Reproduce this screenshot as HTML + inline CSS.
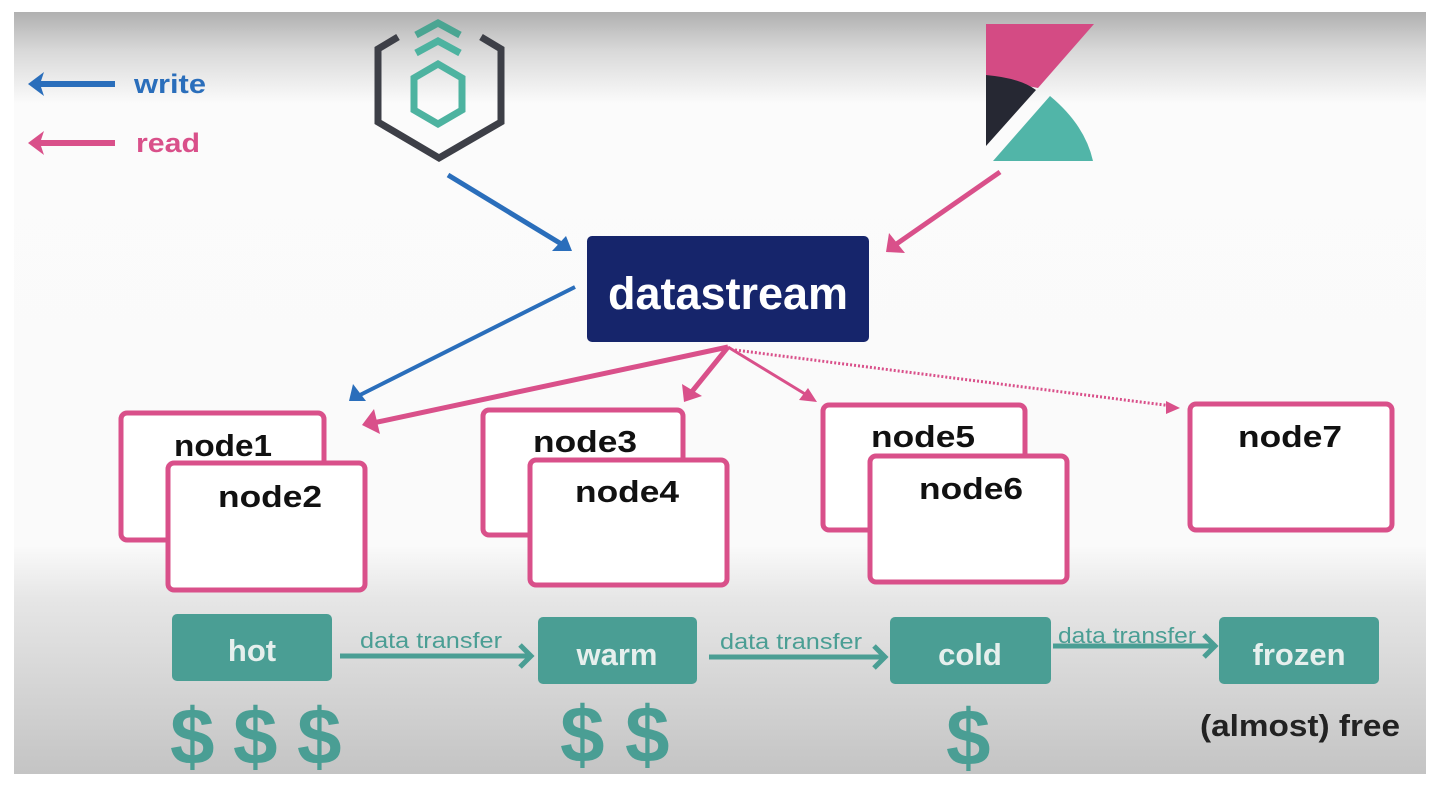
<!DOCTYPE html>
<html><head><meta charset="utf-8"><style>
html,body{margin:0;padding:0;background:#fff;width:1442px;height:790px;overflow:hidden}
svg{display:block}
text{font-family:"Liberation Sans",sans-serif;font-weight:bold}
</style></head><body>
<svg width="1442" height="790" viewBox="0 0 1442 790">
<defs>
<linearGradient id="bg" x1="0" y1="0" x2="0" y2="1">
<stop offset="0" stop-color="#b0b0b0"/>
<stop offset="0.05" stop-color="#d8d8d8"/>
<stop offset="0.12" stop-color="#fbfbfb"/>
<stop offset="0.7" stop-color="#fafafa"/>
<stop offset="0.77" stop-color="#e6e6e6"/>
<stop offset="1" stop-color="#c4c4c4"/>
</linearGradient>
</defs>
<rect x="14" y="12" width="1412" height="762" fill="url(#bg)"/>

<!-- legend -->
<line x1="40" y1="84" x2="115" y2="84" stroke="#2a6ebb" stroke-width="6"/>
<polygon points="28,84 44,72 40,84 44,96" fill="#2a6ebb"/>
<line x1="40" y1="143" x2="115" y2="143" stroke="#d9508a" stroke-width="6"/>
<polygon points="28,143 44,131 40,143 44,155" fill="#d9508a"/>
<text x="134" y="93" font-size="27" fill="#2a6ebb" textLength="72" lengthAdjust="spacingAndGlyphs">write</text>
<text x="136" y="152" font-size="27" fill="#d9508a" textLength="64" lengthAdjust="spacingAndGlyphs">read</text>

<!-- hex logo -->
<path d="M398,37 L378,49 L378,122 L439,158 L501,122 L501,49 L481,37" fill="none" stroke="#3d3f47" stroke-width="7"/>
<path d="M438,64 L462,78 L462,110 L438,124 L414,110 L414,78 Z" fill="none" stroke="#4db3a0" stroke-width="7"/>
<path d="M416,35 L438,23 L460,35" fill="none" stroke="#4aa592" stroke-width="7"/>
<path d="M416,53 L438,41 L460,53" fill="none" stroke="#4db3a0" stroke-width="7"/>

<!-- kibana logo -->
<polygon points="986,24 1094,24 1038,88 986,78" fill="#d44b84"/>
<path d="M986,75 Q1020,78 1036,90 L986,146 Z" fill="#262833"/>
<path d="M993,161 L1050,96 Q1085,125 1093,161 Z" fill="#51b5a8"/>

<!-- arrows to datastream -->
<line x1="448" y1="175" x2="563" y2="245" stroke="#2a6ebb" stroke-width="5"/>
<polygon points="572,251 552,251 566,236" fill="#2a6ebb"/>
<line x1="1000" y1="172" x2="895" y2="245" stroke="#d9508a" stroke-width="5"/>
<polygon points="886,252 889,233 905,253" fill="#d9508a"/>

<!-- datastream -->
<rect x="587" y="236" width="282" height="106" rx="5" fill="#16256b"/>
<text x="608" y="309" font-size="45" fill="#fff" textLength="240" lengthAdjust="spacingAndGlyphs">datastream</text>

<!-- arrows to nodes -->
<line x1="575" y1="287" x2="358" y2="396" stroke="#2a6ebb" stroke-width="4"/>
<polygon points="349,401 353,384 366,401" fill="#2a6ebb"/>
<line x1="728" y1="347" x2="373" y2="423" stroke="#d9508a" stroke-width="5"/>
<polygon points="362,425 374,409 380,434" fill="#d9508a"/>
<line x1="728" y1="347" x2="690" y2="394" stroke="#d9508a" stroke-width="5"/>
<polygon points="684,402 682,384 702,396" fill="#d9508a"/>
<line x1="728" y1="347" x2="810" y2="397" stroke="#d9508a" stroke-width="3"/>
<polygon points="817,402 799,400 808,388" fill="#d9508a"/>
<line x1="735" y1="350" x2="1172" y2="406" stroke="#d9508a" stroke-width="3" stroke-dasharray="2,2"/>
<polygon points="1180,408 1166,401 1166,414" fill="#d9508a"/>

<!-- nodes -->
<g fill="#fff" stroke="#d9508a" stroke-width="5">
<rect x="121" y="413" width="203" height="127" rx="6"/>
<rect x="168" y="463" width="197" height="127" rx="6"/>
<rect x="483" y="410" width="200" height="125" rx="6"/>
<rect x="530" y="460" width="197" height="125" rx="6"/>
<rect x="823" y="405" width="202" height="125" rx="6"/>
<rect x="870" y="456" width="197" height="126" rx="6"/>
<rect x="1190" y="404" width="202" height="126" rx="6"/>
</g>
<g font-size="31" fill="#111">
<text x="174" y="456" textLength="98" lengthAdjust="spacingAndGlyphs">node1</text>
<text x="218" y="507" textLength="104" lengthAdjust="spacingAndGlyphs">node2</text>
<text x="533" y="452" textLength="104" lengthAdjust="spacingAndGlyphs">node3</text>
<text x="575" y="502" textLength="104" lengthAdjust="spacingAndGlyphs">node4</text>
<text x="871" y="447" textLength="104" lengthAdjust="spacingAndGlyphs">node5</text>
<text x="919" y="499" textLength="104" lengthAdjust="spacingAndGlyphs">node6</text>
<text x="1238" y="447" textLength="104" lengthAdjust="spacingAndGlyphs">node7</text>
</g>

<!-- tiers -->
<g fill="#4a9e94">
<rect x="172" y="614" width="160" height="67" rx="5"/>
<rect x="538" y="617" width="159" height="67" rx="5"/>
<rect x="890" y="617" width="161" height="67" rx="5"/>
<rect x="1219" y="617" width="160" height="67" rx="5"/>
</g>
<g font-size="31" fill="#e6efed" text-anchor="middle">
<text x="252" y="661">hot</text>
<text x="617" y="665">warm</text>
<text x="970" y="665">cold</text>
<text x="1299" y="665">frozen</text>
</g>
<g stroke="#4a9e94" stroke-width="5" fill="none">
<line x1="340" y1="656" x2="528" y2="656"/><path d="M520,645 L531,656 L520,667"/>
<line x1="709" y1="657" x2="882" y2="657"/><path d="M874,646 L885,657 L874,668"/>
<line x1="1053" y1="646" x2="1212" y2="646"/><path d="M1204,635 L1215,646 L1204,657"/>
</g>
<g font-size="22" fill="#4a9e94">
<text x="360" y="648" style="font-weight:normal" textLength="142" lengthAdjust="spacingAndGlyphs">data transfer</text>
<text x="720" y="649" style="font-weight:normal" textLength="142" lengthAdjust="spacingAndGlyphs">data transfer</text>
<text x="1058" y="643" style="font-weight:normal" textLength="138" lengthAdjust="spacingAndGlyphs">data transfer</text>
</g>
<g font-size="80" fill="#4a9e94">
<text x="170" y="764">$</text><text x="233" y="764">$</text><text x="297" y="764">$</text>
<text x="560" y="762">$</text><text x="625" y="762">$</text>
<text x="946" y="765">$</text>
</g>
<text x="1200" y="736" font-size="31" fill="#222" textLength="200" lengthAdjust="spacingAndGlyphs">(almost) free</text>
</svg>
</body></html>
